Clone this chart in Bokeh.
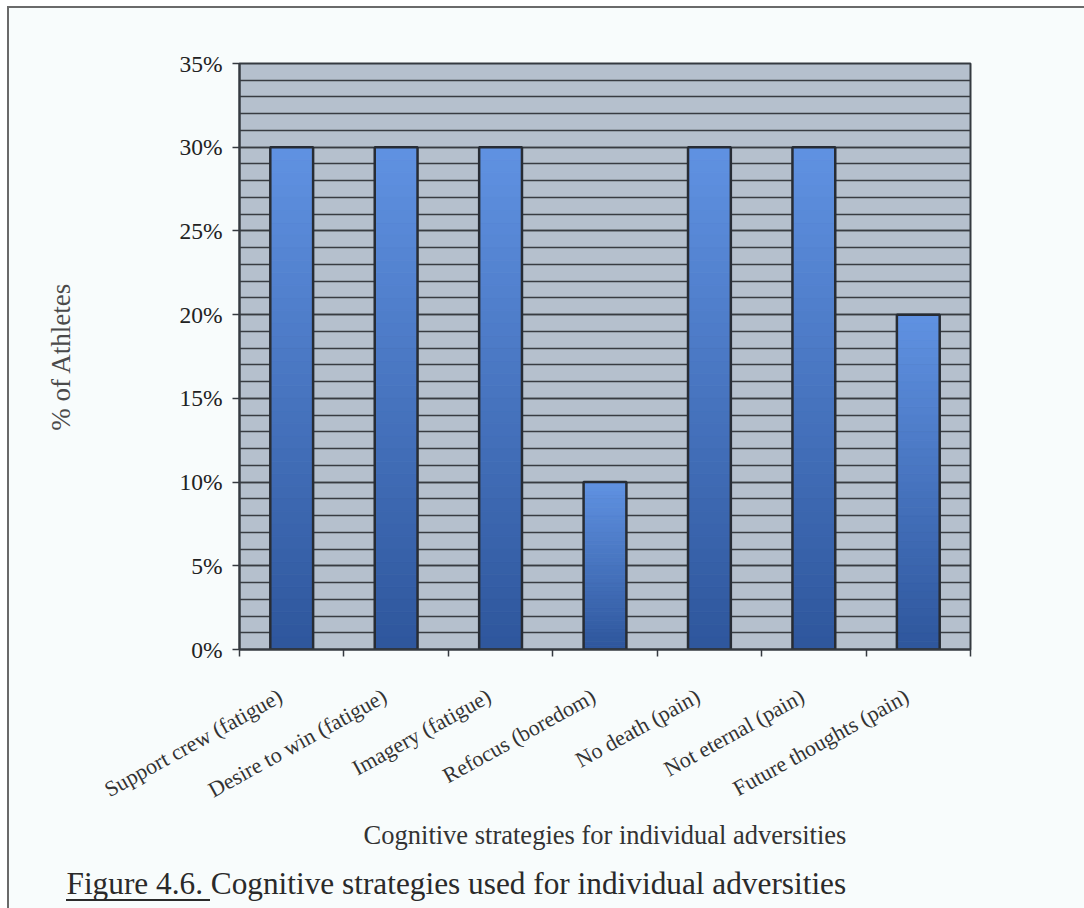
import math
from bokeh.plotting import figure
from bokeh.models import (FixedTicker, SingleIntervalTicker, PrintfTickFormatter,
                          CustomJSTickFormatter, Title, ColumnDataSource)
from bokeh.embed import file_html
from bokeh.resources import INLINE

# ---- data ----
categories = ["Support crew (fatigue)", "Desire to win (fatigue)", "Imagery (fatigue)",
              "Refocus (boredom)", "No death (pain)", "Not eternal (pain)",
              "Future thoughts (pain)"]
values = [30, 30, 30, 10, 30, 30, 20]   # % of athletes
y_max = 35
y_label = "% of Athletes"
x_label = "Cognitive strategies for individual adversities"
caption = "Figure 4.6. Cognitive strategies used for individual adversities"

FONT = "Liberation Serif"
n = len(categories)
xs = [i + 0.5 for i in range(n)]
LABEL_SHIFT = 0.11   # rotated labels end a little left of the bar centre

p = figure(frame_width=731, frame_height=586,
           min_border_left=230, min_border_right=114,
           min_border_top=55, min_border_bottom=255,
           x_range=(0, n), y_range=(0, y_max),
           output_backend="svg", toolbar_location=None)
# outer frame lines (left / top) and the underline of "Figure 4.6." drawn as CSS
p.styles = {
    "border-left": "2px solid #6a6a6a",
    "border-top": "2px solid #6a6a6a",
    "margin-left": "7px",
    "margin-top": "6px",
    "background": "linear-gradient(#2a2a2a, #2a2a2a) no-repeat 57px 891px / 144px 2px, #f8fcfc",
}
p.background_fill_color = "#b5c0cd"
p.border_fill_color = None
p.outline_line_color = "#353a40"
p.outline_line_width = 2

# gradient bars: slices of each bar, darker at the bottom, lighter at the top
N = 40
bot_c = (46, 86, 156)
top_c = (96, 146, 226)
sx, sb, st, sc = [], [], [], []
for x, v in zip(xs, values):
    for k in range(N):
        t = (k + 0.5) / N
        c = tuple(int(round(bot_c[i] + t * (top_c[i] - bot_c[i]))) for i in range(3))
        sx.append(x)
        sb.append(v * k / N)
        st.append(v * (k + 1) / N)
        sc.append("#%02x%02x%02x" % c)
slices = ColumnDataSource(dict(x=sx, bottom=sb, top=st, color=sc))
p.vbar(x="x", bottom="bottom", top="top", width=0.41, fill_color="color",
       line_color="color", line_width=0.8, source=slices)
p.vbar(x=xs, top=values, bottom=0, width=0.41, fill_color=None,
       line_color="#272c34", line_width=2.5)

# grid
p.xgrid.visible = False
yt = SingleIntervalTicker(interval=5, num_minor_ticks=5)
p.yaxis.ticker = yt
p.ygrid.ticker = yt
p.ygrid.grid_line_color = "#383c42"
p.ygrid.grid_line_width = 1.3
p.ygrid.minor_grid_line_color = "#383c42"
p.ygrid.minor_grid_line_width = 1.3

# y axis
ya = p.yaxis[0]
ya.formatter = PrintfTickFormatter(format="%d%%")
ya.axis_line_color = "#353a40"
ya.axis_line_width = 2
ya.major_tick_out = 7
ya.major_tick_in = 0
ya.major_tick_line_color = "#353a40"
ya.major_tick_line_width = 1.5
ya.minor_tick_line_color = None
ya.major_label_standoff = 10
ya.major_label_text_font = FONT
ya.major_label_text_font_size = "23.5px"
ya.major_label_text_color = "#222222"
ya.axis_label = y_label
ya.axis_label_text_font = FONT
ya.axis_label_text_font_size = "27px"
ya.axis_label_text_font_style = "normal"
ya.axis_label_text_color = "#4a4a4a"
ya.axis_label_standoff = 100

# x axis
xa = p.xaxis[0]
xa.ticker = FixedTicker(ticks=[x - LABEL_SHIFT for x in xs], minor_ticks=list(range(n + 1)))
xa.formatter = CustomJSTickFormatter(args=dict(cats=categories, shift=LABEL_SHIFT),
                                     code="return cats[Math.floor(tick + shift)] || '';")
xa.major_label_orientation = math.radians(29)
xa.axis_line_color = "#353a40"
xa.axis_line_width = 2
xa.major_tick_line_color = None
xa.major_tick_out = 0
xa.major_tick_in = 0
xa.minor_tick_line_color = "#353a40"
xa.minor_tick_line_width = 1.5
xa.minor_tick_out = 7
xa.minor_tick_in = 0
xa.major_label_standoff = 38
xa.major_label_text_font = FONT
xa.major_label_text_font_size = "22px"
xa.major_label_text_color = "#333333"
xa.axis_label = x_label
xa.axis_label_text_font = FONT
xa.axis_label_text_font_size = "26.5px"
xa.axis_label_text_font_style = "normal"
xa.axis_label_text_color = "#333333"
xa.axis_label_standoff = 4

# caption
cap = Title(text=caption, align="left", offset=-173, text_font=FONT,
            text_font_size="31.3px", text_font_style="normal", text_color="#2a2a2a",
            standoff=21)
p.add_layout(cap, "below")

open("out.html", "w").write(file_html(p, INLINE))
